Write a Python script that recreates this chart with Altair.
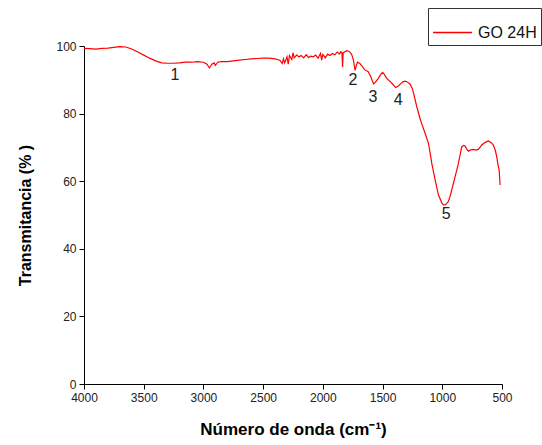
import altair as alt
import pandas as pd

# FTIR spectrum (wavenumber cm^-1, transmittance %)
wavenumber = [4000, 3950, 3900, 3850, 3800, 3750, 3700, 3650, 3600, 3550, 3500, 3450, 3400, 3350,
              3300, 3250, 3200, 3150, 3100, 3050, 3000, 2970, 2950, 2930, 2910, 2900, 2880, 2850,
              2800, 2750, 2700, 2650, 2600, 2550, 2500, 2450, 2400, 2380, 2360, 2340, 2330, 2320,
              2300, 2290, 2280, 2260, 2250, 2240, 2220, 2200, 2180, 2160, 2140, 2120, 2100, 2080,
              2060, 2040, 2020, 2010, 2000, 1980, 1960, 1940, 1920, 1900, 1880, 1860, 1850, 1840,
              1835, 1830, 1800, 1780, 1760, 1745, 1730, 1720, 1710, 1690, 1670, 1650, 1620, 1600,
              1575, 1560, 1540, 1515, 1500, 1485, 1465, 1440, 1420, 1390, 1370, 1350, 1330, 1310,
              1290, 1270, 1250, 1240, 1214, 1190, 1173, 1144, 1116, 1100, 1088, 1060, 1032, 1004,
              990, 977, 960, 949, 935, 921, 893, 865, 837, 820, 809, 795, 781, 760, 740, 720, 698,
              680, 670, 640, 614, 590, 572, 555, 544, 534, 524, 516]
transmittance = [99.3, 99.2, 99.1, 99.3, 99.4, 99.6, 99.8, 99.7, 99.1, 98.2, 97.3, 96.4, 95.6, 95.0,
                 94.9, 94.9, 95.0, 95.2, 95.2, 95.4, 95.2, 94.6, 93.5, 94.6, 95.0, 94.3, 95.2, 95.4,
                 95.4, 95.6, 95.8, 96.0, 96.2, 96.3, 96.4, 96.4, 96.2, 96.0, 95.8, 94.8, 96.2, 95.0,
                 96.8, 94.6, 97.2, 96.0, 98.0, 96.5, 97.3, 96.8, 97.2, 96.5, 97.4, 96.6, 97.0, 96.8,
                 97.3, 96.4, 97.8, 95.8, 97.5, 96.5, 97.6, 97.2, 97.8, 97.4, 98.2, 97.6, 98.3, 98.0,
                 93.8, 98.0, 98.6, 98.4, 97.6, 96.0, 92.8, 94.2, 95.2, 94.8, 94.0, 93.0, 92.4, 91.0,
                 88.8, 89.3, 90.2, 91.6, 92.2, 91.6, 90.4, 89.6, 88.9, 87.7, 88.1, 88.8, 89.4, 89.6,
                 89.3, 88.7, 87.3, 86.0, 82.1, 79.0, 77.1, 74.2, 71.2, 68.0, 65.3, 60.4, 55.9, 53.6,
                 53.0, 53.0, 53.5, 54.0, 55.5, 57.4, 61.3, 65.3, 70.2, 70.6, 70.4, 69.5, 68.9, 69.3,
                 69.4, 69.2, 69.4, 70.2, 70.7, 71.5, 71.9, 71.4, 70.7, 69.0, 67.2, 65.0, 63.3, 58.9]

# Peak annotations
peak_labels = ["1", "2", "3", "4", "5"]
peak_x = [3238, 1747, 1580, 1370, 968]
peak_y = [91.4, 90.0, 84.9, 84.0, 50.3]

series_name = "GO 24H"

x_ticks = list(range(500, 4001, 250))
y_ticks = list(range(0, 101, 10))

spec = pd.DataFrame({"wn": wavenumber, "T": transmittance, "serie": series_name})
peaks = pd.DataFrame({"label": peak_labels, "wn": peak_x, "T": peak_y})

font = "Liberation Sans"

x_scale = alt.Scale(domain=[4000, 500], nice=False, zero=False)
y_scale = alt.Scale(domain=[0, 100], nice=False)

line = alt.Chart(spec).mark_line(strokeWidth=1.2, clip=True).encode(
    x=alt.X("wn:Q", scale=x_scale,
            axis=alt.Axis(title="Número de onda (cm⁻¹)", values=x_ticks,
                          labelExpr="datum.value % 500 === 0 ? format(datum.value, 'd') : ''",
                          tickSize={"condition": {"test": "datum.value % 500 === 0", "value": 5}, "value": 3},
                          labelOverlap=False, labelFlush=False, labelPadding=3,
                          titlePadding=18)),
    y=alt.Y("T:Q", scale=y_scale,
            axis=alt.Axis(title="Transmitancia (% )", values=y_ticks,
                          labelExpr="datum.value % 20 === 0 ? format(datum.value, 'd') : ''",
                          tickSize={"condition": {"test": "datum.value % 20 === 0", "value": 5}, "value": 3},
                          labelOverlap=False, labelFlush=False, labelPadding=3,
                          titlePadding=22)),
    color=alt.Color("serie:N", scale=alt.Scale(domain=[series_name], range=["#ff0000"]),
                    legend=alt.Legend(title=None, orient="none", legendX=344, legendY=-38,
                                      symbolType="stroke", symbolSize=1521, symbolStrokeWidth=1.5,
                                      labelFontSize=16, labelFont=font, labelColor="#111",
                                      labelOffset=5, strokeColor="#333", padding=4)),
)

texts = alt.Chart(peaks).mark_text(fontSize=16, font=font, color="#222").encode(
    x=alt.X("wn:Q", scale=x_scale),
    y=alt.Y("T:Q", scale=y_scale),
    text="label:N",
)

chart = alt.layer(line, texts).properties(
    width=418, height=338,
    autosize=alt.AutoSizeParams(type="none"),
    padding={"left": 84, "top": 46, "right": 40, "bottom": 61},
).configure_view(stroke=None).configure_axis(
    grid=False, domainColor="#000", tickColor="#000", domainWidth=1, tickWidth=1,
    labelFont=font, labelFontSize=12, labelColor="#222",
    titleFont=font, titleFontSize=16, titleFontWeight="bold", titleColor="#000",
).configure_axisX(titleFontSize=17)

chart.save("out.html", embed_options={"renderer": "svg", "actions": False})
